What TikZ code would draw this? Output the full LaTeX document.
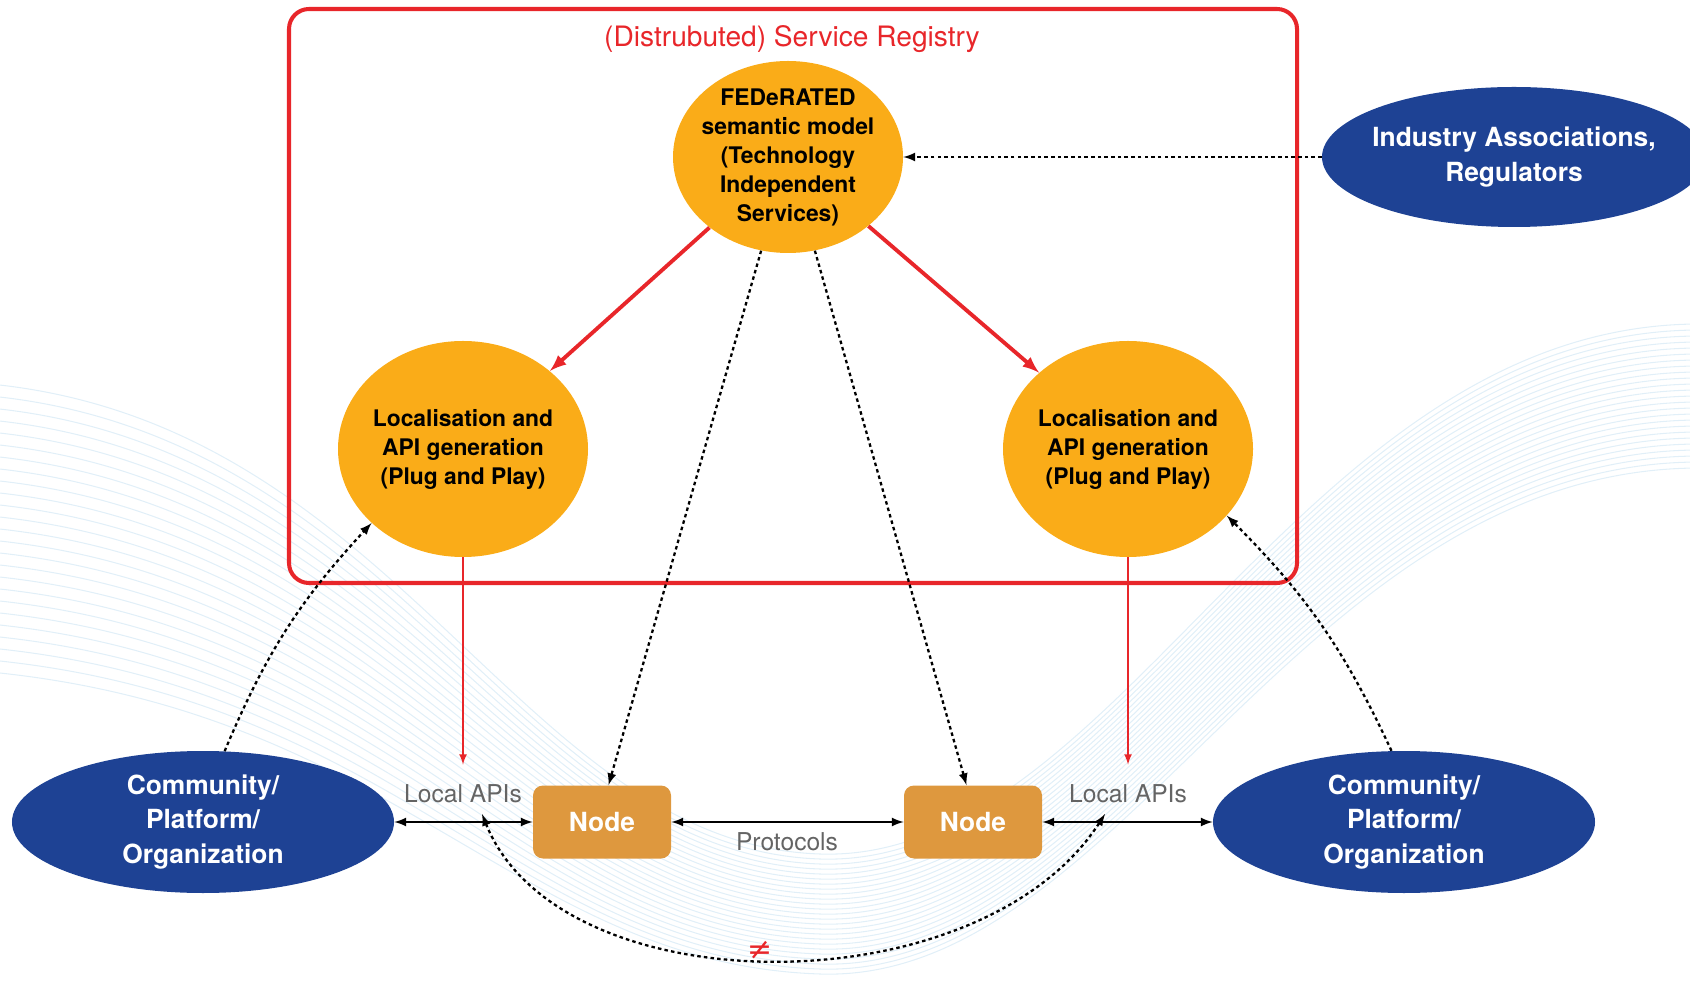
\documentclass[tikz,border=0pt]{standalone}
\usepackage{fontspec}
\setmainfont{TeX Gyre Heros}
\newfontfamily\symbfont{DejaVu Sans}
\usetikzlibrary{arrows,shapes.geometric,positioning}
\definecolor{fedorange}{RGB}{250,172,24}
\definecolor{nodeorange}{RGB}{222,152,62}
\definecolor{fedblue}{RGB}{30,66,148}
\definecolor{fedred}{RGB}{232,38,42}
\definecolor{apigray}{RGB}{100,100,100}
\definecolor{bgblue}{RGB}{170,210,235}
\tikzset{
    node style fed/.style={ellipse,fill=fedorange,align=center,inner xsep=-6mm,inner ysep=-4mm,%
        font=\bfseries\fontsize{13}{16.5}\selectfont},
    node style org/.style={ellipse,fill=fedblue,text=white,align=center,inner xsep=-14mm,inner ysep=-4mm,%
        font=\bfseries\fontsize{15}{19.6}\selectfont},
    node style box/.style={rectangle,rounded corners=2mm,fill=nodeorange,text=white,%
        minimum width=27.6mm,minimum height=14.6mm,font=\bfseries\fontsize{15}{18}\selectfont},
    node style api/.style={text=apigray,font=\fontsize{14}{17}\selectfont},
    arrow style red/.style={->,draw=fedred,line width=2.2pt},
    arrow style thin/.style={->,draw=fedred,line width=1pt},
    arrow style both/.style={<->,draw=black,line width=1.3pt},
    arrow style dot/.style={->,draw=black,dash pattern=on 2pt off 1.8pt,line width=1.3pt},
    bg wave/.style={draw=bgblue,line width=0.6pt,opacity=0.35},
}

\begin{document}
\begin{tikzpicture}[>=latex,x=0.2mm,y=0.2mm]
\useasboundingbox (0,0) rectangle (1690,984);
% le fond
\foreach \i in {0,...,24}
  \draw[bg wave] (-10,{600-12*\i}) .. controls (400,{560-12*\i}) and (520,{140-5*\i}) .. (820,{130-5*\i})
                 .. controls (1120,{120-5*\i}) and (1300,{660-6*\i}) .. (1700,{660-6*\i});

% le registre
\draw[fedred,line width=2.3pt,rounded corners=4mm] (289,975) rectangle (1297,401);
\node[text=fedred,font=\fontsize{16}{18}\selectfont] (title) at (792,945)
    {(Distrubuted) Service Registry};

% les ellipses
\node[node style fed,minimum width=46mm,minimum height=38.4mm] (fed) at (788,827)
    {FEDeRATED\\semantic model\\(Technology\\Independent\\Services)};
\node[node style fed,minimum width=50mm,minimum height=43.2mm] (locL) at (463,535)
    {Localisation and\\API generation\\(Plug and Play)};
\node[node style fed,minimum width=50mm,minimum height=43.2mm] (locR) at (1128,535)
    {Localisation and\\API generation\\(Plug and Play)};
\node[node style org,minimum width=76.8mm,minimum height=28mm] (ind) at (1514,827)
    {Industry Associations,\\Regulators};
\node[node style org,minimum width=76.4mm,minimum height=28.4mm] (comL) at (203,162)
    {Community/\\Platform/\\Organization};
\node[node style org,minimum width=76.4mm,minimum height=28.4mm] (comR) at (1404,162)
    {Community/\\Platform/\\Organization};

% les noeuds
\node[node style box] (nodeL) at (602,162) {Node};
\node[node style box] (nodeR) at (973,162) {Node};
\node[node style api] (apiL) at (463,190) {Local APIs};
\node[node style api] (apiR) at (1128,190) {Local APIs};
\node[node style api] (proto) at (787,142) {Protocols};
\coordinate (arcL) at (482,170);
\coordinate (arcR) at (1105,170);

% les fleches
\draw[arrow style red] (fed) -- (locL);
\draw[arrow style red] (fed) -- (locR);
\draw[arrow style dot] (ind) -- (fed);
\draw[arrow style dot] (fed.254) -- (nodeL.80);
\draw[arrow style dot] (fed.286) -- (nodeR.100);
\draw[arrow style thin] (locL.south) -- ([yshift=8]apiL.north);
\draw[arrow style thin] (locR.south) -- ([yshift=8]apiR.north);
\draw[arrow style dot] (comL.73) to[bend left=10] (locL.219);
\draw[arrow style dot] (comR.100) to[bend right=10] (locR.-34);
\draw[arrow style both] (comL) -- (nodeL);
\draw[arrow style both] (nodeL) -- (nodeR);
\draw[arrow style both] (nodeR) -- (comR);
\draw[arrow style dot,<->] (arcL) .. controls (560,-24) and (980,-24) .. (arcR)
    node[pos=0.48,above=-4pt,text=fedred,font=\symbfont\fontsize{17}{18}\selectfont] (neq) {≠};
\end{tikzpicture}
\end{document}
